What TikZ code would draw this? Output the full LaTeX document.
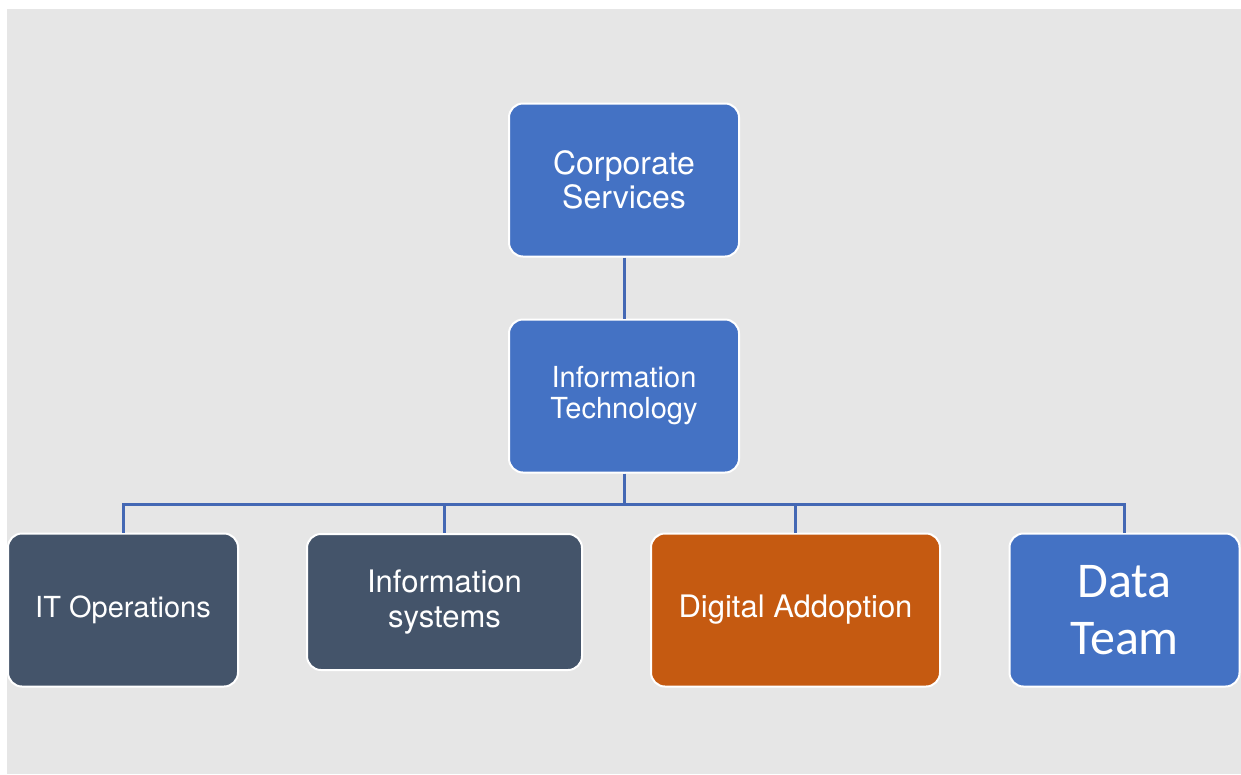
\documentclass[tikz,border=0pt]{standalone}
\usepackage{fontspec}
\setmainfont{TeX Gyre Heros}
\newfontfamily\calibrifont{Carlito}
\definecolor{boxblue}{HTML}{4472C4}
\definecolor{boxslate}{HTML}{44546A}
\definecolor{boxorange}{HTML}{C55A11}
\definecolor{linkblue}{HTML}{4468B4}
\definecolor{backgray}{HTML}{E6E6E6}
\tikzset{
	unit/.style={draw=white,line width=2pt,rounded corners=14pt,inner sep=0pt,
		minimum width=230pt,minimum height=153pt,align=center,text=white,
		font=\fontsize{29}{31}\selectfont},
	link/.style={draw=linkblue,line width=3pt}
}
\begin{document}
\begin{tikzpicture}[x=1pt,y=-1pt]
		\useasboundingbox (0,0) rectangle (1241,774);
		\fill[backgray] (7,9) rectangle (1241,774);

		\node[unit,fill=boxblue,font=\fontsize{32}{34}\selectfont] (corp) at (624,180) {Corporate\\Services};
		\node[unit,fill=boxblue] (info) at (624,396) {Information\\Technology};

		\node[unit,fill=boxslate] (ops) at (123,610) {IT Operations};
		\node[unit,fill=boxslate,minimum width=275pt,minimum height=136pt,font=\fontsize{31}{35}\selectfont] (sys) at (444.5,602) {Information\\systems};
		\node[unit,fill=boxorange,minimum width=289pt,font=\fontsize{31}{34}\selectfont] (dig) at (795.5,610) {Digital Addoption};
		\node[unit,fill=boxblue,font=\calibrifont\fontsize{50}{57}\selectfont] (data) at (1124.5,610) {Data\\Team};

		\draw[link] (corp) -- (info);
		\draw[link] (info.south) -- ++(0,31) coordinate (hub);
		\foreach \n in {ops,sys,dig,data}
		\draw[link] (hub) -| (\n.north);
	\end{tikzpicture}
\end{document}
